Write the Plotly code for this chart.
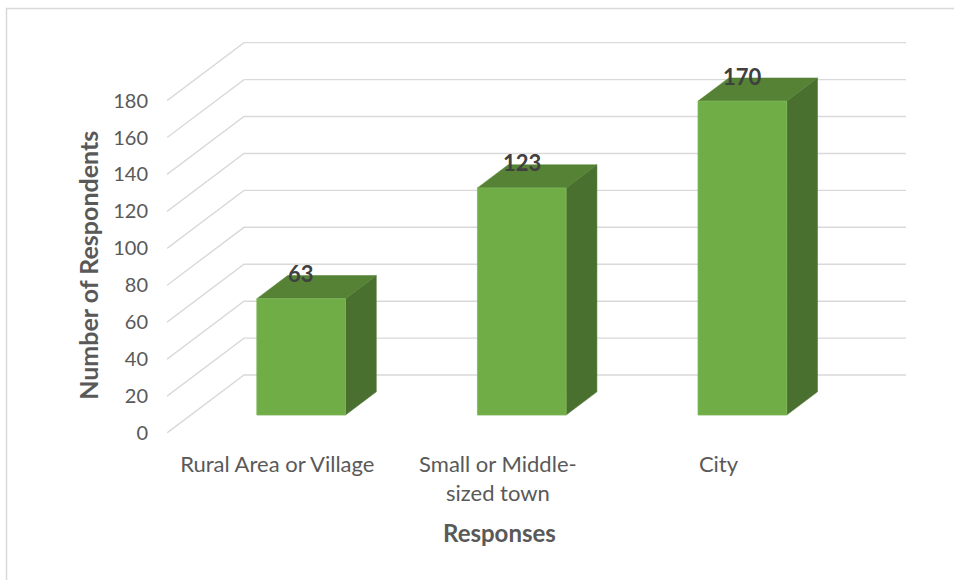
import plotly.graph_objects as go

# Survey data
categories = ["Rural Area or Village", "Small or Middle-<br>sized town", "City"]
respondents = [63, 123, 170]
y_ticks = [0, 20, 40, 60, 80, 100, 120, 140, 160, 180]

# Page / plot geometry (pixels)
W, H = 954, 580
PL, PR, PT, PB = 167, 906, 41, 433.3
X0, X1 = -0.5, 2.85
Y0 = 0
PX_PER_X = (PR - PL) / (X1 - X0)
PX_PER_Y = 1.848
Y1 = (PB - PT) / PX_PER_Y

# Oblique depth of the 3D box, in data units
DEPTH_X = 77 / PX_PER_X
DEPTH_Y = 58 / PX_PER_Y
BAR_FRONT, BAR_BACK = 0.31, 0.71
BAR_W = 0.402

FRONT = "#70AD47"
TOP = "#558235"
SIDE = "#4A7030"
GRID = "#D9D9D9"
TEXT = "#595959"
FONT = "Lato"


def px_to_paper_x(px):
    return (px - PL) / (PR - PL)


def px_to_paper_y(py):
    return (PB - py) / (PB - PT)


fig = go.Figure()

# Back wall and side wall gridlines
for v in y_ticks:
    fig.add_trace(go.Scatter(
        x=[X0, X0 + DEPTH_X, X1],
        y=[v, v + DEPTH_Y, v + DEPTH_Y],
        mode="lines", line=dict(color=GRID, width=1.4),
        hoverinfo="skip", showlegend=False,
    ))

# 3D columns
for i, val in enumerate(respondents):
    ox = BAR_FRONT * DEPTH_X
    oy = BAR_FRONT * DEPTH_Y
    dx = (BAR_BACK - BAR_FRONT) * DEPTH_X
    dy = (BAR_BACK - BAR_FRONT) * DEPTH_Y
    left = i + ox - BAR_W / 2
    right = i + ox + BAR_W / 2
    # side face
    fig.add_trace(go.Scatter(
        x=[right, right, right + dx, right + dx, right],
        y=[oy, oy + val, oy + val + dy, oy + dy, oy],
        fill="toself", fillcolor=SIDE, mode="lines",
        line=dict(color=SIDE, width=0.5),
        hoverinfo="skip", showlegend=False,
    ))
    # top face
    fig.add_trace(go.Scatter(
        x=[left, right, right + dx, left + dx, left],
        y=[oy + val, oy + val, oy + val + dy, oy + val + dy, oy + val],
        fill="toself", fillcolor=TOP, mode="lines",
        line=dict(color=TOP, width=0.5),
        hoverinfo="skip", showlegend=False,
    ))
    # front face
    fig.add_trace(go.Scatter(
        x=[left, right, right, left, left],
        y=[oy, oy, oy + val, oy + val, oy],
        fill="toself", fillcolor=FRONT, mode="lines",
        line=dict(color="#7DB85A", width=0.8),
        hoverinfo="skip", showlegend=False,
    ))
    # value label
    fig.add_annotation(
        x=i + ox, y=val + BAR_BACK * DEPTH_Y + 1.0,
        text=f"<b>{val}</b>", showarrow=False,
        xanchor="center", yanchor="middle",
        font=dict(family=FONT, size=22, color="#404040"),
    )

# Axis titles
fig.add_annotation(
    x=px_to_paper_x(88), y=px_to_paper_y(266), xref="paper", yref="paper",
    text="<b>Number of Respondents</b>", textangle=-90, showarrow=False,
    xanchor="center", yanchor="middle",
    font=dict(family=FONT, size=25, color=TEXT),
)
fig.add_annotation(
    x=px_to_paper_x(499), y=px_to_paper_y(533), xref="paper", yref="paper",
    text="<b>Responses</b>", showarrow=False,
    xanchor="center", yanchor="middle",
    font=dict(family=FONT, size=24, color=TEXT),
)

# Chart area border
fig.add_shape(
    type="rect", xref="paper", yref="paper",
    x0=px_to_paper_x(6.5), x1=px_to_paper_x(W + 10),
    y0=px_to_paper_y(H + 10), y1=px_to_paper_y(8.5),
    line=dict(color=GRID, width=1.5), fillcolor="rgba(0,0,0,0)",
    layer="below",
)

fig.update_layout(
    width=W, height=H, autosize=False,
    margin=dict(l=PL, r=W - PR, t=PT, b=H - PB, pad=0),
    paper_bgcolor="white", plot_bgcolor="white",
    showlegend=False,
    xaxis=dict(
        range=[X0, X1], tickvals=[0, 1, 2], ticktext=categories,
        showgrid=False, zeroline=False, showline=False, ticks="",
        tickfont=dict(family=FONT, size=22, color=TEXT),
        ticklabelstandoff=16, fixedrange=True,
    ),
    yaxis=dict(
        range=[Y0, Y1], tickvals=y_ticks,
        showgrid=False, zeroline=False, showline=False, ticks="",
        tickfont=dict(family=FONT, size=20, color=TEXT),
        ticklabelstandoff=18, fixedrange=True,
    ),
)

fig.write_html("out.html")
